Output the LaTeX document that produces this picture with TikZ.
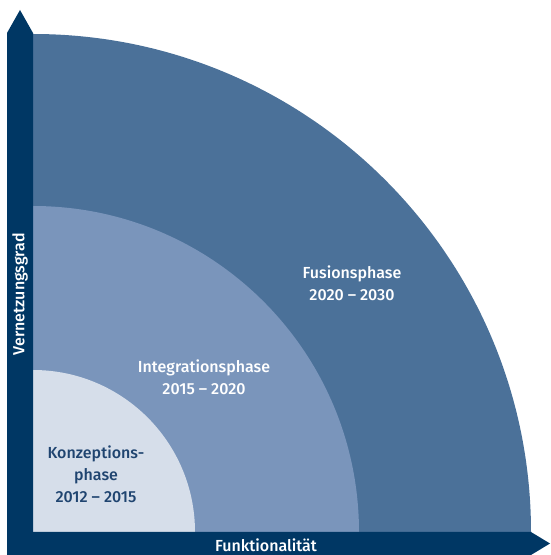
\documentclass[tikz,border=0pt]{standalone}
\usepackage{fontspec}
\setmainfont{Fira Sans}[BoldFont={Fira Sans Medium}]
\definecolor{barblue}{HTML}{003764}
\definecolor{fusion}{HTML}{4B7199}
\definecolor{integ}{HTML}{7A95BB}
\definecolor{konz}{HTML}{D6DEEA}
\definecolor{konztext}{HTML}{1F4470}
\tikzset{phasetext/.style={align=center,font=\bfseries\fontsize{16}{22}\selectfont}}

\begin{document}
\begin{tikzpicture}[x=1pt,y=1pt]
    \useasboundingbox (0,0) rectangle (550,555);
    % quarter discs
    \fill[fusion] (33,23) -- (531,23) arc (0:90:498) -- cycle;
    \fill[integ] (33,23) -- (359,23) arc (0:90:326) -- cycle;
    \fill[konz] (33,23) -- (195,23) arc (0:90:162) -- cycle;

    % axes
    \fill[barblue] (7,0) -- (7,522) -- (20,545) -- (33,522) -- (33,0) -- cycle;
    \fill[barblue] (7,0) -- (531,0) -- (550,11.5) -- (531,23) -- (7,23) -- cycle;

    \node[phasetext,white] (fusion) at (352,272) {Fusionsphase\\2020 -- 2030};
    \node[phasetext,white] (integ) at (204,178) {Integrationsphase\\2015 -- 2020};
    \node[phasetext,konztext] (konz) at (96,81) {Konzeptions-\\phase\\2012 -- 2015};

    \node[phasetext,white] (xlabel) at (266,10) {Funktionalität};
    \node[phasetext,white,rotate=90] (ylabel) at (20,261) {Vernetzungsgrad};
\end{tikzpicture}
\end{document}
